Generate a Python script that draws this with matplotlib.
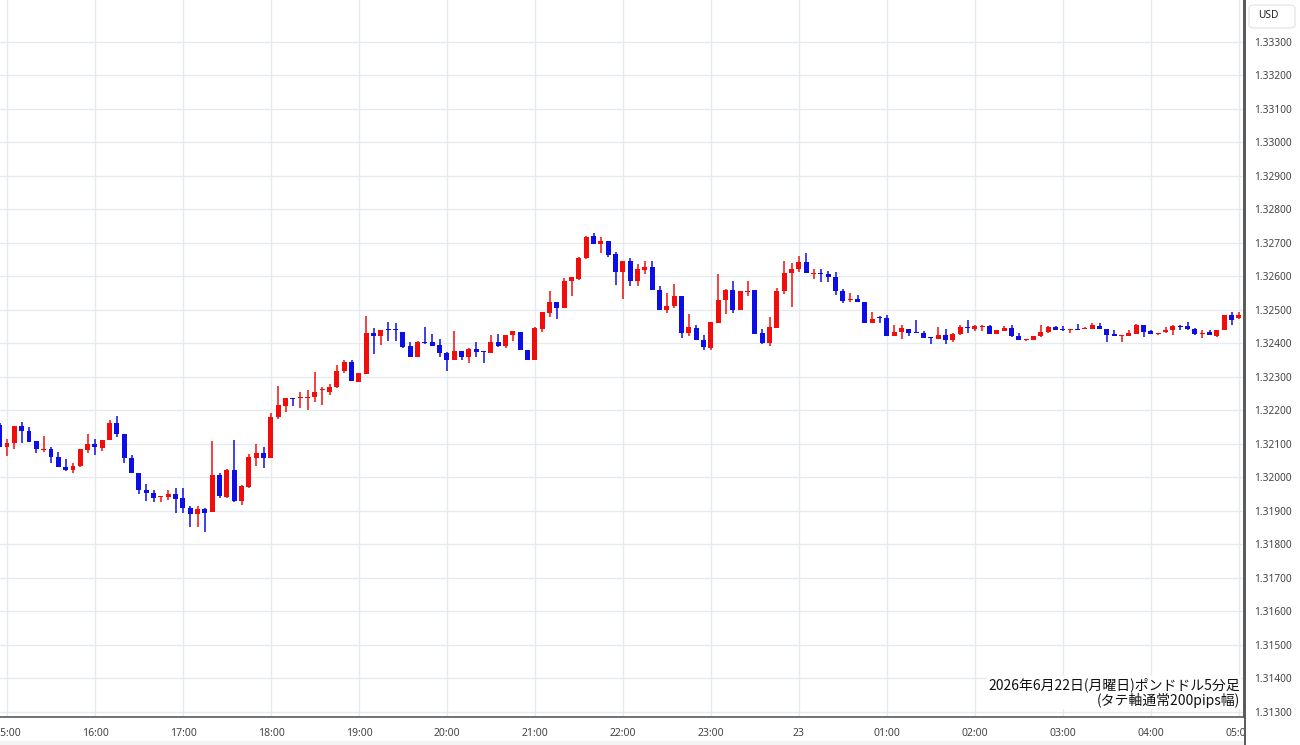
import numpy as np
import matplotlib
matplotlib.use('Agg')
import matplotlib.pyplot as plt
from matplotlib.lines import Line2D
from matplotlib.patches import Rectangle, FancyBboxPatch

# 5-minute candles, first one is 14:55
opens = [1.32155, 1.32089, 1.32101, 1.32153, 1.32139, 1.32108, 1.32082, 1.32084, 1.32061, 1.32031,
         1.32021, 1.32033, 1.32081, 1.32100, 1.32086, 1.32112, 1.32162, 1.32130, 1.32056, 1.32013,
         1.31963, 1.31953, 1.31941, 1.31941, 1.31951, 1.31938, 1.31909, 1.31890, 1.31905, 1.31895,
         1.32006, 1.31940, 1.32022, 1.31930, 1.31970, 1.32057, 1.32072, 1.32057, 1.32179, 1.32213,
         1.32237, 1.32235, 1.32237, 1.32238, 1.32259, 1.32255, 1.32268, 1.32318, 1.32343, 1.32285,
         1.32308, 1.32430, 1.32420, 1.32440, 1.32440, 1.32434, 1.32392, 1.32357, 1.32402, 1.32402,
         1.32393, 1.32370, 1.32350, 1.32375, 1.32358, 1.32382, 1.32374, 1.32370, 1.32404, 1.32392,
         1.32423, 1.32434, 1.32380, 1.32350, 1.32441, 1.32491, 1.32523, 1.32504, 1.32586, 1.32591,
         1.32653, 1.32721, 1.32696, 1.32705, 1.32665, 1.32611, 1.32646, 1.32584, 1.32618, 1.32626,
         1.32559, 1.32499, 1.32511, 1.32541, 1.32431, 1.32446, 1.32409, 1.32385, 1.32460, 1.32529,
         1.32559, 1.32499, 1.32552, 1.32559, 1.32429, 1.32400, 1.32444, 1.32554, 1.32608, 1.32620,
         1.32643, 1.32606, 1.32608, 1.32605, 1.32596, 1.32554, 1.32529, 1.32533, 1.32524, 1.32459,
         1.32475, 1.32474, 1.32422, 1.32433, 1.32443, 1.32432, 1.32430, 1.32416, 1.32412, 1.32423,
         1.32409, 1.32426, 1.32449, 1.32441, 1.32449, 1.32451, 1.32426, 1.32436, 1.32446, 1.32420,
         1.32408, 1.32408, 1.32420, 1.32433, 1.32448, 1.32441, 1.32439, 1.32443, 1.32441, 1.32441,
         1.32450, 1.32441, 1.32426, 1.32420, 1.32422, 1.32427, 1.32455, 1.32435, 1.32428, 1.32433,
         1.32438, 1.32450, 1.32450, 1.32441, 1.32428, 1.32432, 1.32420, 1.32438, 1.32483, 1.32476]
highs = [1.32160, 1.32115, 1.32153, 1.32163, 1.32150, 1.32108, 1.32122, 1.32090, 1.32074, 1.32053,
         1.32043, 1.32083, 1.32128, 1.32115, 1.32112, 1.32170, 1.32182, 1.32130, 1.32066, 1.32013,
         1.31980, 1.31963, 1.31943, 1.31963, 1.31966, 1.31966, 1.31913, 1.31915, 1.31909, 1.32109,
         1.32012, 1.32024, 1.32112, 1.31975, 1.32069, 1.32099, 1.32089, 1.32192, 1.32273, 1.32237,
         1.32237, 1.32255, 1.32261, 1.32313, 1.32268, 1.32278, 1.32335, 1.32350, 1.32350, 1.32311,
         1.32482, 1.32444, 1.32440, 1.32464, 1.32460, 1.32434, 1.32404, 1.32407, 1.32447, 1.32427,
         1.32413, 1.32372, 1.32437, 1.32377, 1.32385, 1.32404, 1.32375, 1.32424, 1.32427, 1.32424,
         1.32437, 1.32434, 1.32380, 1.32449, 1.32494, 1.32556, 1.32523, 1.32594, 1.32596, 1.32656,
         1.32720, 1.32730, 1.32716, 1.32705, 1.32671, 1.32646, 1.32655, 1.32636, 1.32646, 1.32646,
         1.32569, 1.32549, 1.32577, 1.32541, 1.32487, 1.32454, 1.32424, 1.32462, 1.32606, 1.32561,
         1.32586, 1.32556, 1.32584, 1.32559, 1.32441, 1.32479, 1.32564, 1.32646, 1.32640, 1.32660,
         1.32670, 1.32620, 1.32620, 1.32615, 1.32613, 1.32561, 1.32549, 1.32543, 1.32524, 1.32494,
         1.32481, 1.32484, 1.32454, 1.32454, 1.32443, 1.32469, 1.32436, 1.32417, 1.32449, 1.32441,
         1.32429, 1.32454, 1.32469, 1.32454, 1.32454, 1.32454, 1.32439, 1.32450, 1.32455, 1.32430,
         1.32410, 1.32420, 1.32455, 1.32450, 1.32450, 1.32450, 1.32441, 1.32458, 1.32448, 1.32460,
         1.32460, 1.32441, 1.32438, 1.32422, 1.32440, 1.32458, 1.32455, 1.32440, 1.32431, 1.32448,
         1.32453, 1.32455, 1.32463, 1.32445, 1.32440, 1.32440, 1.32440, 1.32485, 1.32493, 1.32493]
lows = [1.32090, 1.32063, 1.32085, 1.32103, 1.32106, 1.32073, 1.32076, 1.32043, 1.32031, 1.32019,
        1.32011, 1.32031, 1.32071, 1.32066, 1.32079, 1.32110, 1.32120, 1.32043, 1.32013, 1.31951,
        1.31930, 1.31926, 1.31926, 1.31931, 1.31893, 1.31893, 1.31852, 1.31850, 1.31835, 1.31895,
        1.31937, 1.31937, 1.31925, 1.31917, 1.31967, 1.32032, 1.32026, 1.32057, 1.32172, 1.32194,
        1.32213, 1.32205, 1.32201, 1.32223, 1.32215, 1.32245, 1.32265, 1.32311, 1.32288, 1.32283,
        1.32308, 1.32368, 1.32395, 1.32407, 1.32407, 1.32385, 1.32357, 1.32357, 1.32397, 1.32392,
        1.32358, 1.32317, 1.32350, 1.32350, 1.32342, 1.32358, 1.32342, 1.32370, 1.32388, 1.32385,
        1.32407, 1.32380, 1.32350, 1.32350, 1.32434, 1.32479, 1.32473, 1.32504, 1.32541, 1.32587,
        1.32650, 1.32696, 1.32670, 1.32656, 1.32572, 1.32531, 1.32571, 1.32571, 1.32606, 1.32557,
        1.32499, 1.32491, 1.32504, 1.32414, 1.32421, 1.32409, 1.32380, 1.32378, 1.32460, 1.32487,
        1.32489, 1.32499, 1.32541, 1.32427, 1.32397, 1.32391, 1.32444, 1.32547, 1.32509, 1.32613,
        1.32608, 1.32591, 1.32581, 1.32581, 1.32544, 1.32519, 1.32523, 1.32523, 1.32459, 1.32459,
        1.32459, 1.32422, 1.32422, 1.32411, 1.32421, 1.32430, 1.32415, 1.32398, 1.32412, 1.32398,
        1.32404, 1.32423, 1.32431, 1.32437, 1.32437, 1.32426, 1.32426, 1.32436, 1.32418, 1.32408,
        1.32406, 1.32408, 1.32418, 1.32430, 1.32440, 1.32436, 1.32430, 1.32440, 1.32441, 1.32441,
        1.32441, 1.32403, 1.32420, 1.32403, 1.32422, 1.32427, 1.32418, 1.32426, 1.32425, 1.32430,
        1.32425, 1.32440, 1.32440, 1.32425, 1.32416, 1.32423, 1.32418, 1.32438, 1.32455, 1.32473]
closes = [1.32090, 1.32102, 1.32153, 1.32138, 1.32106, 1.32083, 1.32084, 1.32061, 1.32031, 1.32021,
          1.32033, 1.32083, 1.32100, 1.32089, 1.32112, 1.32162, 1.32128, 1.32056, 1.32013, 1.31963,
          1.31953, 1.31939, 1.31943, 1.31951, 1.31936, 1.31909, 1.31890, 1.31905, 1.31892, 1.32006,
          1.31943, 1.32022, 1.31930, 1.31973, 1.32059, 1.32072, 1.32057, 1.32179, 1.32215, 1.32237,
          1.32233, 1.32237, 1.32240, 1.32255, 1.32261, 1.32268, 1.32318, 1.32343, 1.32288, 1.32311,
          1.32430, 1.32420, 1.32440, 1.32438, 1.32438, 1.32388, 1.32357, 1.32403, 1.32399, 1.32392,
          1.32370, 1.32350, 1.32375, 1.32358, 1.32383, 1.32372, 1.32372, 1.32404, 1.32392, 1.32424,
          1.32437, 1.32380, 1.32350, 1.32444, 1.32494, 1.32523, 1.32504, 1.32586, 1.32596, 1.32653,
          1.32718, 1.32696, 1.32705, 1.32663, 1.32611, 1.32646, 1.32584, 1.32621, 1.32626, 1.32557,
          1.32499, 1.32512, 1.32541, 1.32431, 1.32447, 1.32409, 1.32387, 1.32462, 1.32529, 1.32559,
          1.32499, 1.32556, 1.32556, 1.32427, 1.32399, 1.32447, 1.32554, 1.32608, 1.32620, 1.32643,
          1.32608, 1.32608, 1.32606, 1.32596, 1.32554, 1.32527, 1.32533, 1.32523, 1.32459, 1.32473,
          1.32474, 1.32422, 1.32434, 1.32444, 1.32431, 1.32430, 1.32415, 1.32414, 1.32423, 1.32409,
          1.32426, 1.32449, 1.32446, 1.32451, 1.32451, 1.32426, 1.32439, 1.32446, 1.32420, 1.32408,
          1.32410, 1.32420, 1.32433, 1.32448, 1.32440, 1.32439, 1.32441, 1.32440, 1.32445, 1.32455,
          1.32441, 1.32423, 1.32420, 1.32422, 1.32430, 1.32455, 1.32433, 1.32428, 1.32431, 1.32440,
          1.32450, 1.32448, 1.32443, 1.32428, 1.32431, 1.32423, 1.32438, 1.32483, 1.32470, 1.32483]

hour_labels = ['15:00', '16:00', '17:00', '18:00', '19:00', '20:00', '21:00', '22:00',
               '23:00', '23', '01:00', '02:00', '03:00', '04:00', '05:00']
price_ticks = [1.313, 1.314, 1.315, 1.316, 1.317, 1.318, 1.319, 1.320, 1.321, 1.322, 1.323,
               1.324, 1.325, 1.326, 1.327, 1.328, 1.329, 1.330, 1.331, 1.332, 1.333]

title_lines = '2026年6月22日(月曜日)ポンドドル5分足\n(タテ軸通常200pips幅)'

UP = '#f20d0d'
DOWN = '#0d0de6'
GRID = '#e6ebf0'
AXIS = '#5a5a5a'


def main():
    plt.rcParams['font.family'] = ['Noto Sans', 'DejaVu Sans']
    o = np.array(opens)
    h = np.array(highs)
    l = np.array(lows)
    c = np.array(closes)
    x = np.arange(len(o)) - 1  # index 0 is 15:00
    up = c >= o
    colors = np.where(up, UP, DOWN)

    fig = plt.figure(figsize=(13, 7.45), dpi=100)
    ax = fig.add_axes([0, 28 / 745, 1244 / 1300, 717 / 745])

    ax.vlines(x, l, h, colors=colors, linewidth=1.1, zorder=2)
    body = np.maximum(np.abs(c - o), 0.00003)
    ax.bar(x, body, bottom=np.minimum(o, c), width=0.68, color=colors,
           linewidth=0, zorder=3)

    ax.set_xlim(-0.955, 168.7)
    ax.set_ylim(1.31284, 1.33424)

    hour_pos = np.arange(len(hour_labels)) * 12
    ax.set_xticks(hour_pos)
    ax.set_xticklabels(hour_labels)
    for t in ax.get_xticklabels():
        if t.get_text() == '23':
            t.set_fontweight('bold')
            t.set_color('#222222')
    ax.set_yticks(price_ticks)
    ax.set_yticklabels(['%.5f' % p for p in price_ticks])
    ax.yaxis.tick_right()
    ax.tick_params(axis='x', length=0, pad=8, labelsize=7.5, labelcolor='#444444')
    ax.tick_params(axis='y', length=0, pad=7, labelsize=7.3, labelcolor='#444444')

    ax.grid(True, color=GRID, linewidth=1, zorder=0)
    ax.set_axisbelow(True)
    for s in ['top', 'left']:
        ax.spines[s].set_visible(False)
    ax.spines['bottom'].set_color(AXIS)
    ax.spines['bottom'].set_linewidth(1.2)
    ax.spines['right'].set_color(AXIS)
    ax.spines['right'].set_linewidth(1.4)

    # price scale separator down to the bottom
    fig.add_artist(Line2D([1244.5 / 1300] * 2, [0, 1], transform=fig.transFigure,
                          color=AXIS, linewidth=1.4, zorder=6))
    # hide the part of the last time label under the price panel
    fig.add_artist(Rectangle((1245 / 1300, 0), 55 / 1300, 27 / 745, transform=fig.transFigure,
                             facecolor='white', edgecolor='none', zorder=5))
    fig.add_artist(Rectangle((0, 0), 1244 / 1300, 4 / 745, transform=fig.transFigure,
                             facecolor='#f3f3f3', edgecolor='none', zorder=5))

    # currency box
    fig.add_artist(FancyBboxPatch((1249 / 1300, 1 - 28 / 745), 46 / 1300, 23 / 745,
                                  boxstyle='round,pad=0,rounding_size=0.004',
                                  transform=fig.transFigure, facecolor='white',
                                  edgecolor='#e2e2e2', linewidth=0.8, zorder=6))
    fig.text(1268 / 1300, 1 - 16 / 745, 'USD', ha='center', va='center', fontsize=7.3,
             color='#222222', zorder=7)

    ax.text(0.9965, 0.013, title_lines, transform=ax.transAxes, ha='right', va='bottom',
            fontsize=10, color='#111111', linespacing=1.0,
            family=['Noto Sans CJK JP', 'DejaVu Sans'], zorder=5,
            bbox=dict(facecolor='white', edgecolor='none', pad=1))

    fig.savefig('out.png', dpi=100)


if __name__ == '__main__':
    main()
